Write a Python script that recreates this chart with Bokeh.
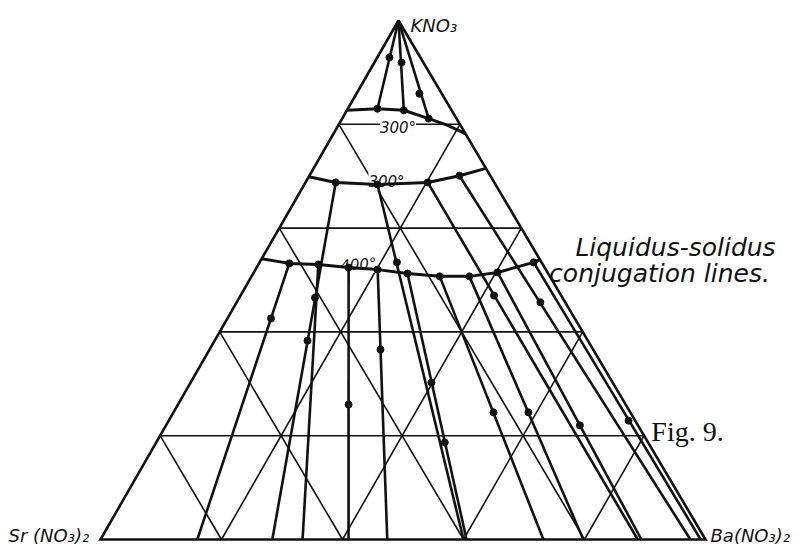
from bokeh.plotting import figure
from bokeh.models import Range1d, Label
from bokeh.embed import file_html
from bokeh.resources import INLINE

# ---------------- data (ternary fractions: a = KNO3, b = Ba(NO3)2, c = 1-a-b = Sr(NO3)2) -------------
grid_levels = [0.2, 0.4, 0.6, 0.8]

# upper 300° isotherm
iso1_a = [0.827, 0.830, 0.827, 0.811, 0.798, 0.782]
iso1_b = [0.000, 0.049, 0.094, 0.143, 0.181, 0.218]
# lower 300° isotherm
iso2_a = [0.699, 0.688, 0.684, 0.688, 0.701, 0.715]
iso2_b = [0.000, 0.050, 0.121, 0.202, 0.248, 0.285]
# 400° isotherm
iso3_a = [0.541, 0.532, 0.530, 0.524, 0.520, 0.5125, 0.507, 0.507, 0.5145, 0.534, 0.539]
iso3_b = [0.000, 0.050, 0.099, 0.152, 0.202, 0.255, 0.311, 0.360, 0.403, 0.453, 0.461]

# lines from the KNO3 corner to the upper isotherm
apex_end_a = [0.830, 0.827, 0.811]
apex_end_b = [0.049, 0.094, 0.143]

# liquidus-solidus conjugation lines: liquid (a, b) -> solid b on the Sr-Ba side
tie_liq_a = [0.532, 0.688, 0.530, 0.524, 0.520, 0.684, 0.5125, 0.507, 0.507, 0.688, 0.5145, 0.701, 0.534]
tie_liq_b = [0.050, 0.050, 0.099, 0.152, 0.202, 0.121, 0.255, 0.311, 0.360, 0.202, 0.403, 0.248, 0.453]
tie_sol_b = [0.160, 0.284, 0.334, 0.410, 0.474, 0.600, 0.605, 0.732, 0.798, 0.888, 0.894, 0.975, 0.992]

# observed points
dot_a = [0.830, 0.827, 0.811,
         0.929, 0.919, 0.859,
         0.688, 0.684, 0.688, 0.701,
         0.532, 0.530, 0.524, 0.520, 0.5125, 0.507, 0.507, 0.5145, 0.534,
         0.426, 0.383, 0.466, 0.260, 0.366, 0.534, 0.3025, 0.187, 0.245, 0.245,
         0.470, 0.220, 0.457, 0.229]
dot_b = [0.049, 0.094, 0.143,
         0.020, 0.045, 0.104,
         0.050, 0.121, 0.202, 0.248,
         0.050, 0.099, 0.152, 0.202, 0.255, 0.311, 0.360, 0.403, 0.453,
         0.072, 0.1535, 0.125, 0.282, 0.2825, 0.227, 0.398, 0.477, 0.529, 0.5866,
         0.419, 0.684, 0.502, 0.760]

corner_names = ["KNO\u2083", "Sr (NO\u2083)\u2082", "Ba(NO\u2083)\u2082"]
iso_labels = ["300\u00b0", "300\u00b0", "400\u00b0"]
note_lines = ["Liquidus-solidus", "conjugation lines."]
fig_title = "Fig. 9."

# ---------------- layout ----------------
INK = "#111111"
X0, Y0 = 100.0, 539.0      # Sr(NO3)2 corner on the page
BX = 605.0                 # Ba(NO3)2 corner offset
KX, KY = 298.0, 519.0      # KNO3 corner offset


def tx(a, b):
    return X0 + BX * b + KX * a


def ty(a, b):
    return Y0 - KY * a


p = figure(width=801, height=548, x_range=Range1d(0, 801), y_range=Range1d(548, 0),
           output_backend="svg", toolbar_location=None, min_border=0,
           background_fill_color="white", border_fill_color="white")
p.axis.visible = False
p.grid.visible = False
p.outline_line_color = None

# grid
gx, gy = [], []
for k in grid_levels:
    for (a1, b1, a2, b2) in [(k, 0, k, 1 - k), (0, k, 1 - k, k), (1 - k, 0, 0, 1 - k)]:
        gx.append([tx(a1, b1), tx(a2, b2)])
        gy.append([ty(a1, b1), ty(a2, b2)])
p.multi_line(gx, gy, line_color=INK, line_width=1.6, level="image")

# triangle
ca = [1, 0, 0, 1]
cb = [0, 0, 1, 0]
p.line([tx(a, b) for a, b in zip(ca, cb)], [ty(a, b) for a, b in zip(ca, cb)],
       line_color=INK, line_width=2.6, line_join="miter")

# apex lines
p.multi_line([[tx(1, 0), tx(a, b)] for a, b in zip(apex_end_a, apex_end_b)],
             [[ty(1, 0), ty(a, b)] for a, b in zip(apex_end_a, apex_end_b)],
             line_color=INK, line_width=2.6)

# tie lines
p.multi_line([[tx(a, b), tx(0, s)] for a, b, s in zip(tie_liq_a, tie_liq_b, tie_sol_b)],
             [[ty(a, b), ty(0, s)] for a, b, s in zip(tie_liq_a, tie_liq_b, tie_sol_b)],
             line_color=INK, line_width=2.6)

# isotherms
for ia, ib in [(iso1_a, iso1_b), (iso2_a, iso2_b), (iso3_a, iso3_b)]:
    p.line([tx(a, b) for a, b in zip(ia, ib)], [ty(a, b) for a, b in zip(ia, ib)],
           line_color=INK, line_width=3, line_join="round")

# points
p.scatter([tx(a, b) for a, b in zip(dot_a, dot_b)], [ty(a, b) for a, b in zip(dot_a, dot_b)],
          size=7, fill_color=INK, line_color=INK)


def lab(x, y, text, size, align="left", font="DejaVu Sans", style="italic",
        bg=None, angle=0.0, level="annotation"):
    l = Label(x=x, y=y, text=text, text_font_size=f"{size}px", text_align=align,
              text_baseline="alphabetic", text_font=font, text_font_style=style,
              text_color=INK, angle=angle, level=level)
    if bg:
        l.background_fill_color = bg
    p.add_layout(l)


lab(410, 25, corner_names[0], 18)
lab(8, 535, corner_names[1], 18)
lab(710, 535, corner_names[2], 18)

lab(397.5, 127.5, iso_labels[0], 15, align="center", bg="white", level="underlay")
lab(386, 181, iso_labels[1], 15, align="center", bg="white", level="underlay")
lab(358, 264, iso_labels[2], 15, align="center", bg="white", level="underlay", angle=0.07)

lab(675, 247, note_lines[0], 25, align="center")
lab(659, 273, note_lines[1], 25, align="center")

lab(687, 431, fig_title, 28, align="center", font="Liberation Serif", style="normal")

open("out.html", "w").write(file_html(p, INLINE))
